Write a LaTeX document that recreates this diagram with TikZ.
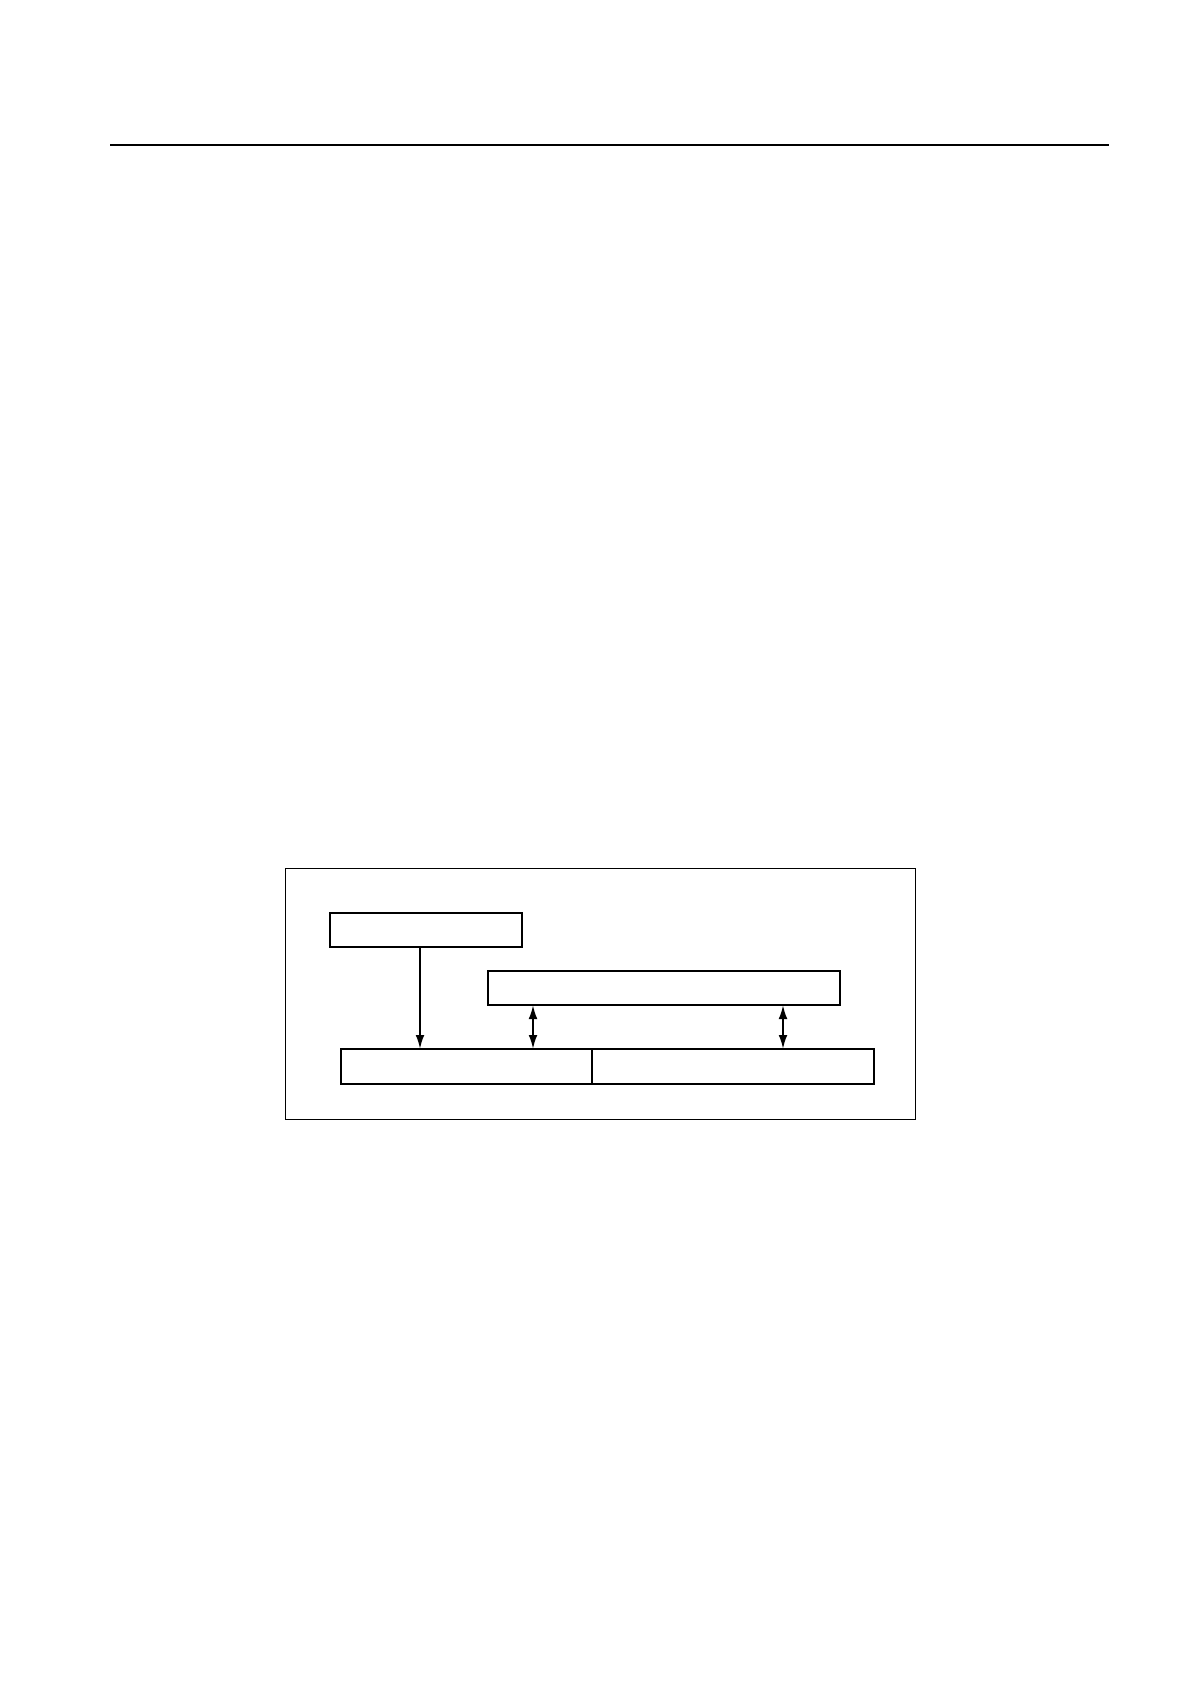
\documentclass[tikz,border=0pt]{standalone}
\usetikzlibrary{arrows.meta}
\usetikzlibrary{positioning}

\tikzset{
    blockbox/.style={draw, line width=1pt, inner sep=0pt, outer sep=0pt,
        anchor=north west, minimum height=17pt},
    link/.style={line width=1pt, -{Latex[length=7pt,width=4.4pt]}},
    duplex/.style={line width=1pt,
        {Latex[length=7pt,width=4.4pt]}-{Latex[length=7pt,width=4.4pt]}}
}

\begin{document}
\begin{tikzpicture}[x=0.5pt,y=-0.5pt]
    \useasboundingbox (0,0) rectangle (1190,1684);

    % page rule and frame
    \draw[line width=0.6pt] (110,145) -- (1109,145);
    \node[draw, line width=0.5pt, inner sep=0pt, anchor=north west,
        minimum width=315.25pt, minimum height=125.5pt] (frame) at (284.5,868) {};

    \node[blockbox, minimum width=96.25pt] (source) at (329.5,913) {};
    \node[blockbox, minimum width=176pt] (bus) at (488,971) {};
    \node[blockbox, minimum width=125.5pt, minimum height=17.5pt] (left) at (341,1049) {};
    \node[blockbox, minimum width=141pt, minimum height=17.5pt,
        right=0pt of left] (right) {};

    \coordinate (s1) at ([xshift=-2.875pt]source.south);
    \coordinate (b1) at ([xshift=22.5pt]bus.south west);
    \coordinate (b2) at ([xshift=-28.5pt]bus.south east);

    \draw[link] (s1) -- (s1 |- left.north);
    \draw[duplex] (b1) -- (b1 |- left.north);
    \draw[duplex] (b2) -- (b2 |- right.north);

\end{tikzpicture}
\end{document}
